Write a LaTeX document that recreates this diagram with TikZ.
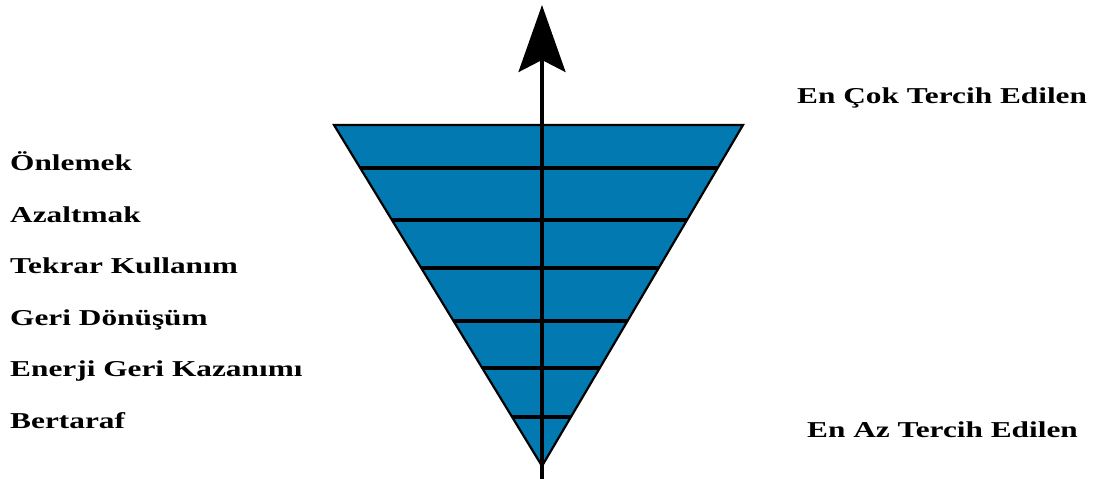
\documentclass[tikz,border=0pt]{standalone}
\usepackage{fontspec}
\setmainfont{Liberation Serif}
\usetikzlibrary{arrows.meta}
\definecolor{pyrblue}{RGB}{2,121,176}
\tikzset{
  lbl/.style={anchor=base west, inner sep=0pt, font=\fontsize{22.7}{26}\selectfont\bfseries},
  band/.style={line width=3.2pt, draw=black},
}
\newcommand{\stretchtext}[1]{\scalebox{1.38}[1]{#1}}
\begin{document}
\begin{tikzpicture}[x=1pt,y=-1pt]
\useasboundingbox (0,0) rectangle (1103,479);
% triangle
\coordinate (tl) at (334,125);
\coordinate (tr) at (743,125);
\coordinate (ap) at (542,466);
\fill[pyrblue] (tl) -- (tr) -- (ap) -- cycle;
% band lines
\foreach \y in {168,220,268,321,368,417}{
  \path (tl) -- (ap) coordinate[pos={(\y-125)/341}] (l\y);
  \path (tr) -- (ap) coordinate[pos={(\y-125)/341}] (r\y);
  \draw[band] (l\y) -- (r\y);
}
\draw[line width=2.2pt, line join=miter] (tl) -- (tr) -- (ap) -- cycle;
% axis with arrow
\coordinate (bot) at (542,479);
\coordinate (top) at (542,5);
\draw[line width=3.4pt, -{Stealth[length=67pt,width=47pt,inset=12pt]}] (bot) -- (top);
% labels
\node[lbl] (onlemek) at (10,170.5) {\stretchtext{Önlemek}};
\node[lbl] (azaltmak) at (10,222.5) {\stretchtext{Azaltmak}};
\node[lbl] (tekrar) at (10,273.5) {\stretchtext{Tekrar Kullanım}};
\node[lbl] (geri) at (10,325.5) {\stretchtext{Geri Dönüşüm}};
\node[lbl] (enerji) at (10,376.5) {\stretchtext{Enerji Geri Kazanımı}};
\node[lbl] (bertaraf) at (10,428) {\stretchtext{Bertaraf}};
\node[lbl] (cok) at (797,103) {\stretchtext{En Çok Tercih Edilen}};
\node[lbl] (az) at (807,437) {\stretchtext{En Az Tercih Edilen}};
\end{tikzpicture}
\end{document}
